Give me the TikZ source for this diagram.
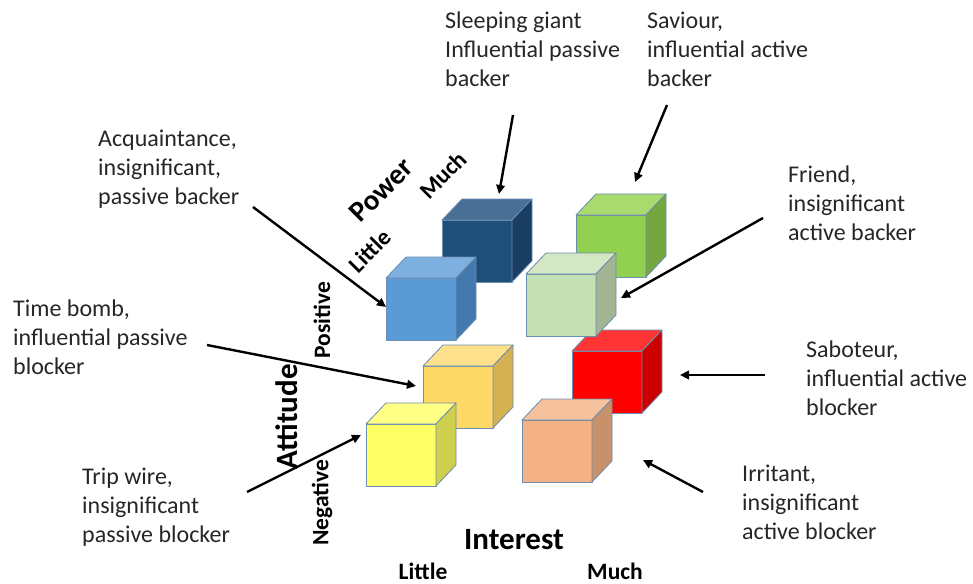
\documentclass[tikz,border=0pt]{standalone}
\usepackage{fontspec}
\setmainfont{Carlito}
\usetikzlibrary{arrows.meta}
\definecolor{dbF}{HTML}{1F4E79}\definecolor{dbT}{HTML}{4A6F96}\definecolor{dbS}{HTML}{1A3D63}
\definecolor{lbF}{HTML}{5B9BD5}\definecolor{lbT}{HTML}{7DAFDF}\definecolor{lbS}{HTML}{4379AD}
\definecolor{gF}{HTML}{92D050}\definecolor{gT}{HTML}{A8DA6E}\definecolor{gS}{HTML}{74A83E}
\definecolor{lgF}{HTML}{C5E0B4}\definecolor{lgT}{HTML}{D3E7C5}\definecolor{lgS}{HTML}{A2B592}
\definecolor{oF}{HTML}{FFD966}\definecolor{oT}{HTML}{FFE08A}\definecolor{oS}{HTML}{D4B251}
\definecolor{rF}{HTML}{FF0000}\definecolor{rT}{HTML}{FF3535}\definecolor{rS}{HTML}{CC0000}
\definecolor{yF}{HTML}{FFFF66}\definecolor{yT}{HTML}{FFFF85}\definecolor{yS}{HTML}{CFCF4E}
\definecolor{pF}{HTML}{F4B183}\definecolor{pT}{HTML}{F6C29E}\definecolor{pS}{HTML}{C89169}
\definecolor{edgecol}{HTML}{6C8DB2}
\definecolor{txt}{HTML}{262626}
\newcommand\cubeat[5]{%
  \draw[cubeedge, fill=#3] (#1,#2) rectangle ++(70,62);
  \draw[cubeedge, fill=#4] (#1,#2) -- ++(20,-21) -- ++(70,0) -- ++(-20,21) -- cycle;
  \draw[cubeedge, fill=#5] (#1,#2) ++(70,0) -- ++(20,-21) -- ++(0,62) -- ++(-20,21) -- cycle;
}
\begin{document}
\begin{tikzpicture}[x=1pt,y=-1pt,
  cubeedge/.style={draw=edgecol, line width=0.8pt, line join=round},
  lbl/.style={anchor=north west, inner sep=0pt, align=left, text=txt, font=\fontsize{24}{29}\selectfont},
  axlbl/.style={inner sep=0pt, text=black, font=\fontsize{23.5}{28}\selectfont\bfseries},
  axtitle/.style={inner sep=0pt, text=black, font=\fontsize{31}{36}\selectfont\bfseries},
  arr/.style={line width=2.4pt, black, -{Triangle[length=9pt,width=8.5pt]}}]
\useasboundingbox (0,0) rectangle (973,583);
% cubes (back to front)
\cubeat{442}{220}{dbF}{dbT}{dbS}
\cubeat{576}{215}{gF}{gT}{gS}
\cubeat{572}{351}{rF}{rT}{rS}
\cubeat{423}{366}{oF}{oT}{oS}
\cubeat{386}{278}{lbF}{lbT}{lbS}
\cubeat{526}{274}{lgF}{lgT}{lgS}
\cubeat{366}{424}{yF}{yT}{yS}
\cubeat{522}{420}{pF}{pT}{pS}
% labels
\node[lbl] (sg) at (445,12) {Sleeping giant\\Influential passive\\backer};
\node[lbl] (sv) at (647,12) {Saviour,\\influential active\\backer};
\node[lbl] (aq) at (98,130) {Acquaintance,\\insignificant,\\passive backer};
\node[lbl] (tb) at (13,300) {Time bomb,\\influential passive\\blocker};
\node[lbl] (tw) at (82,468) {Trip wire,\\insignificant\\passive blocker};
\node[lbl] (fr) at (788,166) {Friend,\\insignificant\\active backer};
\node[lbl] (sb) at (806,341) {Saboteur,\\influential active\\blocker};
\node[lbl] (ir) at (742,465) {Irritant,\\insignificant\\active blocker};
% axis labels
\node[axtitle] (interest) at (514,540) {Interest};
\node[axlbl] (ilittle) at (423,571) {Little};
\node[axlbl] (imuch) at (615,571) {Much};
\node[axtitle, rotate=90] (attitude) at (287,417) {Attitude};
\node[axlbl, rotate=90] (pos) at (322,320) {Positive};
\node[axlbl, rotate=90] (neg) at (322,503) {Negative};
\node[axlbl, rotate=45, font=\fontsize{29}{32}\selectfont\bfseries] (power) at (381,190) {Power};
\node[axlbl, rotate=45] (plittle) at (370,251) {Little};
\node[axlbl, rotate=45] (pmuch) at (443,175) {Much};
% arrow end points
\coordinate (sg1) at (513,115); \coordinate (sg2) at (499,194);
\coordinate (sv1) at (667,105); \coordinate (sv2) at (635,182);
\coordinate (aq1) at (253,207); \coordinate (aq2) at (386,307);
\coordinate (tb1) at (207,345); \coordinate (tb2) at (416,386);
\coordinate (tw1) at (247,492); \coordinate (tw2) at (361,435);
\coordinate (fr1) at (763,218); \coordinate (fr2) at (621,298);
\coordinate (sb1) at (765,375); \coordinate (sb2) at (680,375);
\coordinate (ir1) at (703,492); \coordinate (ir2) at (643,460);
\draw[arr] (sg1) -- (sg2);
\draw[arr] (sv1) -- (sv2);
\draw[arr] (aq1) -- (aq2);
\draw[arr] (tb1) -- (tb2);
\draw[arr] (tw1) -- (tw2);
\draw[arr] (fr1) -- (fr2);
\draw[arr] (sb1) -- (sb2);
\draw[arr] (ir1) -- (ir2);
\end{tikzpicture}
\end{document}
